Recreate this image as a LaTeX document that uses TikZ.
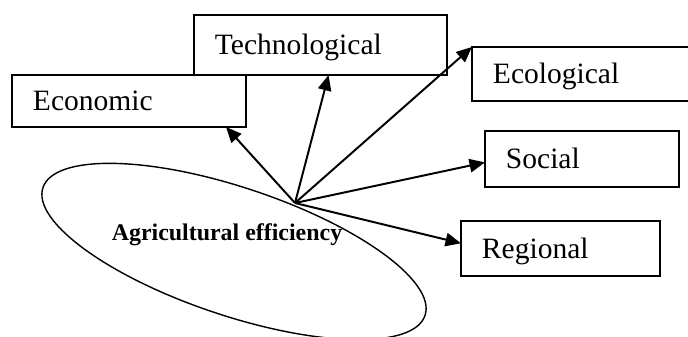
\documentclass[tikz,border=0pt]{standalone}
\usepackage{fontspec}
\setmainfont{Liberation Serif}
\usepackage{tikz}
\usetikzlibrary{arrows.meta, shapes.geometric}

\begin{document}
\begin{tikzpicture}[
    x=0.025cm, y=-0.025cm,
    font=\fontsize{21}{25}\selectfont,
    box/.style={draw, line width=1pt, inner xsep=0.525cm, inner ysep=0pt, align=left, outer sep=0pt,
                text height=14pt, text depth=0pt},
    arr/.style={-{Triangle[length=11pt, width=9.5pt]}, line width=1.4pt},
]
\clip (0,0) rectangle (688,336);

\node[box, text width=5.275cm, minimum height=1.5cm] (tech) at (320.5, 45) {Technological};
\node[box, text width=4.8cm, minimum height=1.3cm] (econ) at (129, 101) {Economic};
\node[box, text width=4.65cm, minimum height=1.35cm] (eco) at (586, 74) {Ecological};
\node[box, text width=3.8cm, minimum height=1.4cm] (soc) at (582, 159) {Social};
\node[box, text width=3.925cm, minimum height=1.375cm] (reg) at (560.5, 248.5) {Regional};

\node[draw, ellipse, line width=1pt, inner sep=0pt, minimum width=10.07cm, minimum height=3.2cm, rotate=-18.5] (field) at (234, 251.5) {};
\node[font=\fontsize{17}{20}\selectfont\bfseries] (agr) at (227, 235) {Agricultural efficiency};

\coordinate (hub) at (295, 203);

\draw[arr] (hub) -- (econ.-15);
\draw[arr] (hub) -- (tech.-75);
\draw[arr] (hub) -- (eco.north west);
\draw[arr] (hub) -- (soc.182);
\draw[arr] (hub) -- (reg.177);

\end{tikzpicture}
\end{document}
